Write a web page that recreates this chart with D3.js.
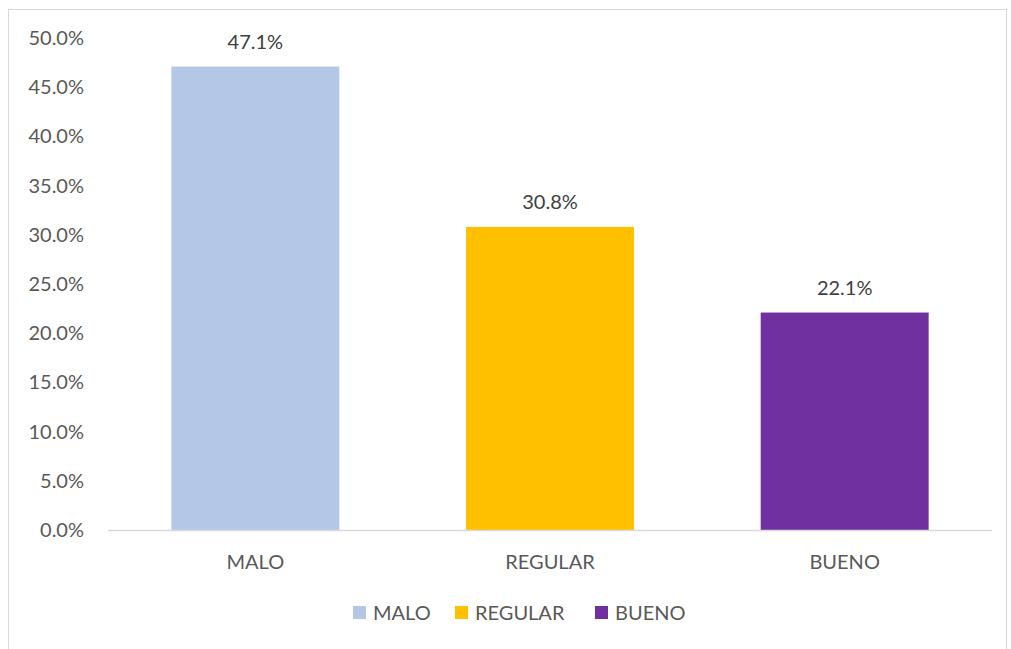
<!DOCTYPE html>
<html lang="en">
<head>
    <meta charset="UTF-8">
    <title>MALO / REGULAR / BUENO</title>
    <script src="https://d3js.org/d3.v7.min.js"></script>
    <style>
        body { margin: 0; background: #fff; }
        text { font-family: Lato, "Open Sans", sans-serif; fill: #595959; }
    </style>
</head>
<body>
<svg width="1011" height="649"></svg>
<script>
    // chart data
    const categories = ["MALO", "REGULAR", "BUENO"];
    const values = [47.1, 30.8, 22.1];
    const colors = ["#b4c7e7", "#ffc000", "#7030a0"];
    const yTicks = [0, 5, 10, 15, 20, 25, 30, 35, 40, 45, 50];

    const svg = d3.select("svg");

    // outer frame
    svg.append("rect")
        .attr("x", 8.5).attr("y", 9.5)
        .attr("width", 998).attr("height", 650)
        .attr("fill", "none")
        .attr("stroke", "#d9d9d9");

    const x = d3.scaleBand()
        .domain(categories)
        .range([108, 992])
        .paddingInner(0.43)
        .paddingOuter(0.215);

    const y = d3.scaleLinear()
        .domain([0, 50])
        .range([530, 38]);

    // y tick labels
    svg.selectAll(".ytick")
        .data(yTicks)
        .enter()
        .append("text")
        .attr("x", 84)
        .attr("y", d => y(d))
        .attr("dy", "0.35em")
        .attr("text-anchor", "end")
        .attr("font-size", "20px")
        .text(d => d.toFixed(1) + "%");

    // bars
    svg.selectAll(".bar")
        .data(values)
        .enter()
        .append("rect")
        .attr("x", (d, i) => x(categories[i]))
        .attr("y", d => y(d))
        .attr("width", x.bandwidth())
        .attr("height", d => y(0) - y(d))
        .attr("fill", (d, i) => colors[i]);

    // baseline
    svg.append("line")
        .attr("x1", 108).attr("x2", 992)
        .attr("y1", y(0) + 0.5).attr("y2", y(0) + 0.5)
        .attr("stroke", "#d9d9d9")
        .attr("stroke-width", 1.5);

    // value labels
    svg.selectAll(".vlabel")
        .data(values)
        .enter()
        .append("text")
        .attr("x", (d, i) => x(categories[i]) + x.bandwidth() / 2)
        .attr("y", d => y(d) - 18)
        .attr("text-anchor", "middle")
        .attr("font-size", "20px")
        .style("fill", "#404040")
        .text(d => d.toFixed(1) + "%");

    // category labels
    svg.selectAll(".xlabel")
        .data(categories)
        .enter()
        .append("text")
        .attr("x", d => x(d) + x.bandwidth() / 2)
        .attr("y", 569)
        .attr("text-anchor", "middle")
        .attr("font-size", "20px")
        .text(d => d);

    // legend
    const legendX = [353, 455, 595];
    const legend = svg.selectAll(".legend")
        .data(categories)
        .enter()
        .append("g")
        .attr("transform", (d, i) => `translate(${legendX[i]},606)`);

    legend.append("rect")
        .attr("width", 13).attr("height", 13)
        .attr("fill", (d, i) => colors[i]);

    legend.append("text")
        .attr("x", 20)
        .attr("y", 6.5)
        .attr("dy", "0.35em")
        .attr("font-size", "20px")
        .text(d => d);
</script>
</body>
</html>
